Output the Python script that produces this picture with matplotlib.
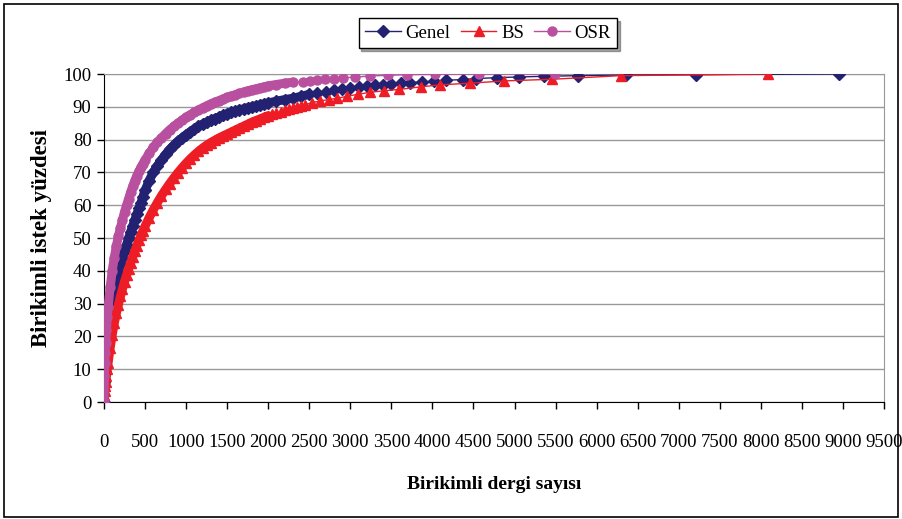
import matplotlib
matplotlib.use("Agg")
import matplotlib.pyplot as plt
from matplotlib.patches import Rectangle

# ---- data ----
genel_x = [0, 5, 10, 15, 20, 30, 40, 50, 75, 100, 125, 150, 175, 200, 225, 250, 275, 300,
           325, 350, 375, 400, 425, 450, 475, 500, 550, 600, 650, 700, 750, 800, 850, 900,
           950, 1000, 1050, 1100, 1150, 1200, 1250, 1300, 1350, 1400, 1450, 1500, 1550,
           1600, 1650, 1700, 1750, 1800, 1850, 1900, 1950, 2000, 2100, 2200, 2300, 2400,
           2500, 2600, 2700, 2800, 2900, 3000, 3100, 3200, 3300, 3400, 3496, 3617, 3731,
           3868, 4014, 4165, 4367, 4530, 4786, 5057, 5365, 5769, 6353, 7211, 8956]
genel_y = [0, 6, 9, 11.5, 14, 17.5, 20.5, 23, 27.5, 31, 34, 37, 39.5, 42, 44, 46, 48, 50,
           51.9, 53.7, 55.5, 57.3, 59, 60.7, 62.6, 64.5, 67.5, 70, 72, 73.8, 75.5, 77, 78.3,
           79.5, 80.5, 81.5, 82.4, 83.2, 84, 84.7, 85.3, 85.9, 86.4, 86.9, 87.4, 87.9, 88.3,
           88.7, 89.1, 89.4, 89.7, 90, 90.3, 90.6, 90.9, 91.2, 91.7, 92.2, 92.6, 93.2,
           93.8, 94.2, 94.6, 95.0, 95.4, 95.8, 96.1, 96.3, 96.5, 96.7, 96.9, 97.2, 97.4,
           97.6, 97.8, 98.1, 98.3, 98.6, 98.9, 99.1, 99.3, 99.5, 99.7, 99.8, 100]

bs_x = [0, 5, 10, 15, 20, 30, 40, 50, 75, 100, 125, 150, 175, 200, 225, 250, 275, 300,
        325, 350, 375, 400, 425, 450, 475, 500, 550, 600, 650, 700, 750, 800, 850, 900,
        950, 1000, 1050, 1100, 1150, 1200, 1250, 1300, 1350, 1400, 1450, 1500, 1550,
        1600, 1650, 1700, 1750, 1800, 1850, 1900, 1950, 2000, 2050, 2100, 2150, 2200,
        2250, 2300, 2350, 2400, 2450, 2534, 2635, 2736, 2838, 2960, 3089, 3235, 3414,
        3597, 3861, 4096, 4461, 4876, 5455, 6296, 8083]
bs_y = [0, 2, 3.5, 5, 6, 8, 10, 12, 16.5, 20.5, 24, 27, 29.7, 32.2, 34.5, 36.7, 38.7, 40.6,
        42.5, 44.3, 46, 47.7, 49.3, 50.8, 52.2, 53.6, 56.2, 58.6, 60.8, 62.9, 64.8, 66.6,
        68.3, 69.9, 71.4, 72.8, 74.1, 75.3, 76.4, 77.4, 78.3, 79.1, 79.8, 80.5, 81.1,
        81.7, 82.3, 82.9, 83.5, 84.1, 84.7, 85.3, 85.8, 86.3, 86.8, 87.3, 87.7, 88.1,
        88.5, 88.9, 89.3, 89.7, 90.0, 90.3, 90.6, 91.3, 91.8, 92.2, 92.6, 93.2, 93.8,
        94.4, 94.9, 95.3, 96.1, 96.7, 97.2, 97.9, 98.4, 99.5, 100]

osr_x = [0, 5, 10, 15, 20, 30, 40, 50, 75, 100, 125, 150, 175, 200, 225, 250, 275, 300,
         325, 350, 375, 400, 425, 450, 475, 500, 550, 600, 650, 700, 750, 800, 850, 900,
         950, 1000, 1050, 1100, 1150, 1200, 1250, 1300, 1350, 1400, 1450, 1500, 1550,
         1600, 1650, 1700, 1750, 1800, 1850, 1900, 1950, 2000, 2100, 2200, 2300, 2424,
         2505, 2595, 2696, 2797, 2907, 3053, 3235, 3454, 3690, 4035, 4562, 5495]
osr_y = [0, 8, 12, 15, 18, 22, 26, 29, 35, 40, 44, 47.5, 50.5, 53, 55.5, 58, 60, 62,
         64, 65.8, 67.5, 69, 70.3, 71.5, 72.7, 73.8, 75.8, 77.6, 79.2, 80.5, 81.8, 83,
         84, 85, 85.9, 86.8, 87.6, 88.3, 89, 89.7, 90.3, 90.9, 91.4, 91.9, 92.4, 92.9,
         93.3, 93.7, 94.1, 94.5, 94.9, 95.2, 95.5, 95.8, 96.1, 96.4, 96.8, 97.2, 97.5,
         97.7, 98.0, 98.2, 98.4, 98.5, 98.9, 99.0, 99.4, 99.6, 99.8, 99.9, 100, 100]

series_names = ["Genel", "BS", "OSR"]
x_ticks = list(range(0, 9501, 500))
y_ticks = list(range(0, 101, 10))
x_title = "Birikimli dergi sayısı"
y_title = "Birikimli istek yüzdesi"

# ---- style ----
c_genel = "#232272"
c_bs = "#EE1C25"
c_osr = "#B8509F"
font = ["Liberation Serif", "DejaVu Serif"]
plt.rcParams["font.family"] = font

fig = plt.figure(figsize=(9.02, 5.19), dpi=100)
fig.patches.append(Rectangle((0.004, 0.004), 0.992, 0.988, transform=fig.transFigure,
                             fill=False, edgecolor="black", linewidth=1.2))
ax = fig.add_axes([0.1153, 0.2254, 0.8647, 0.632])

specs = [
    (genel_x, genel_y, c_genel, "D", 6.0, series_names[0], 3, 2500),
    (bs_x, bs_y, c_bs, "^", 7.5, series_names[1], 4, 2000),
    (osr_x, osr_y, c_osr, "o", 6.5, series_names[2], 5, 2300),
]
for xs, ys, col, mk, ms, name, z, dense_until in specs:
    # where the markers overlap into a solid ribbon in the original
    n = sum(1 for v in xs if v <= dense_until)
    ax.plot(xs[:n], ys[:n], color=col, linewidth=6.5, solid_joinstyle="round",
            solid_capstyle="round", zorder=z)
    ax.plot(xs, ys, color=col, marker=mk, markersize=ms, linewidth=1,
            label=name, zorder=z)

ax.set_xlim(0, 9500)
ax.set_ylim(0, 100)
ax.set_xticks(x_ticks)
ax.set_yticks(y_ticks)
ax.tick_params(axis="x", direction="out", length=5, width=1, pad=18, labelsize=13.5)
ax.tick_params(axis="y", direction="out", length=5, width=1, pad=4, labelsize=13.5)
ax.yaxis.grid(True, color="#999999", linewidth=1)
ax.set_axisbelow(True)
for s in ["top", "right"]:
    ax.spines[s].set_color("#999999")
for s in ["left", "bottom"]:
    ax.spines[s].set_color("black")

ax.set_xlabel(x_title, fontsize=14, fontweight="bold", labelpad=18)
ax.set_ylabel(y_title, fontsize=16.5, fontweight="bold", labelpad=8)

leg = fig.legend(loc="center", bbox_to_anchor=(0.541, 0.936), ncol=3, fontsize=13.5,
                 frameon=True, fancybox=False, shadow=True, handlelength=1.9,
                 handletextpad=0.25, columnspacing=0.55, borderpad=0.35)
leg.get_frame().set_edgecolor("black")
leg.get_frame().set_linewidth(1)

fig.savefig("out.png", dpi=100)
